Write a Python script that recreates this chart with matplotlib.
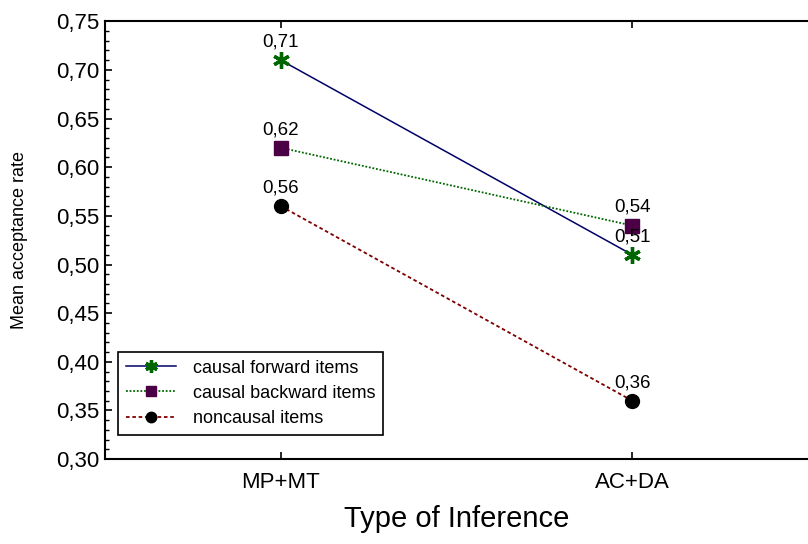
import matplotlib
matplotlib.use("Agg")
import matplotlib.pyplot as plt
from matplotlib.ticker import MultipleLocator, FuncFormatter

plt.rcParams['font.family'] = ['Liberation Sans', 'DejaVu Sans']

# data
categories = ["MP+MT", "AC+DA"]
forward = [0.71, 0.51]
backward = [0.62, 0.54]
noncausal = [0.56, 0.36]

fig = plt.figure(figsize=(8.08, 5.44), dpi=100)
ax = fig.add_axes([0.13, 0.156, 0.87, 0.805])

x = range(len(categories))
ax.plot(x, forward, color='#000066', lw=1.1, ls='-', marker=(6, 2, 0),
        ms=12, mec='#006600', mew=2.4, label='causal forward items', zorder=3)
ax.plot(x, backward, color='#006600', lw=1.3, ls=(0, (1, 1)), marker='s',
        ms=10, mfc='#4b0045', mec='#4b0045', label='causal backward items', zorder=3)
ax.plot(x, noncausal, color='#800000', lw=1.3, ls=(0, (2, 1.5)), marker='o',
        ms=10, mfc='black', mec='black', label='noncausal items', zorder=3)

for series in (forward, backward, noncausal):
    for xi, v in zip(x, series):
        ax.annotate(('%.2f' % v).replace('.', ','), (xi, v), xytext=(0, 7),
                    textcoords='offset points', ha='center', va='bottom', fontsize=13.5)

ax.set_xlim(-0.5, 1.5)
ax.set_ylim(0.30, 0.75)
ax.set_xticks(list(x))
ax.set_xticklabels(categories)
ax.yaxis.set_major_locator(MultipleLocator(0.05))
ax.yaxis.set_minor_locator(MultipleLocator(0.01))
ax.yaxis.set_major_formatter(FuncFormatter(lambda v, p: ('%.2f' % v).replace('.', ',')))
ax.tick_params(axis='both', which='major', direction='in', length=5, width=1.2,
               labelsize=16, top=True, pad=4)
ax.tick_params(axis='y', which='minor', direction='in', length=3, width=1)
ax.tick_params(axis='x', pad=9)

ax.spines['right'].set_visible(False)
for s in ('left', 'top', 'bottom'):
    ax.spines[s].set_linewidth(1.5)

ax.set_xlabel('Type of Inference', fontsize=21, labelpad=9)
ax.set_ylabel('Mean acceptance rate', fontsize=13, labelpad=20)

leg = ax.legend(loc='lower left', bbox_to_anchor=(0.018, 0.055), fontsize=13,
                frameon=True, fancybox=False, edgecolor='black', framealpha=1,
                handlelength=2.8, markerscale=0.75, borderpad=0.45,
                labelspacing=0.45, handletextpad=0.9, borderaxespad=0)
leg.get_frame().set_linewidth(1.2)

fig.savefig('out.png', dpi=100)
